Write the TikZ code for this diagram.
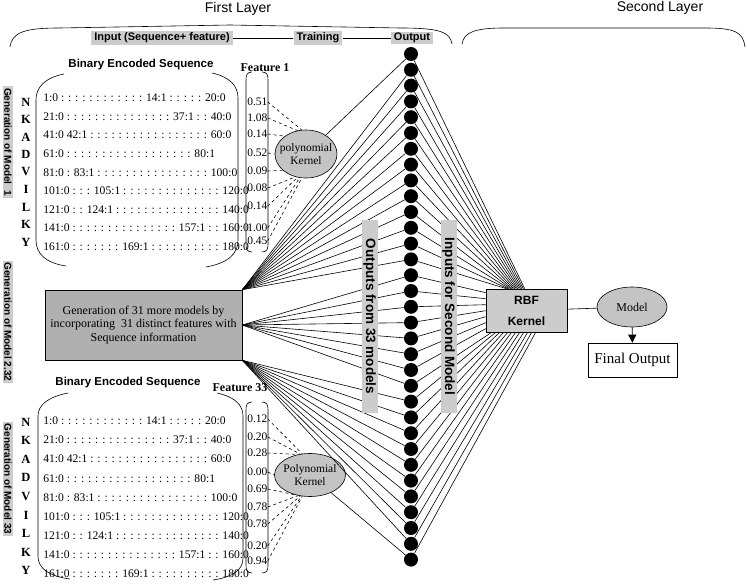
\documentclass[tikz,border=0pt]{standalone}
\usepackage{fontspec}
\setmainfont{Liberation Serif}
\setsansfont{Liberation Sans}
\usepackage{tikz}
\usetikzlibrary{shapes.geometric, arrows.meta, positioning, calc}
\definecolor{tagfill}{RGB}{204, 204, 204}
\definecolor{boxfill}{RGB}{176, 176, 176}
\definecolor{kernfill}{RGB}{196, 196, 196}
\tikzstyle{tag} = [fill=tagfill, inner xsep=3pt, inner ysep=1.5pt, font=\sffamily\bfseries\fontsize{11}{12}\selectfont]
\tikzstyle{sidetag} = [tag, rotate=-90, inner xsep=2pt, inner ysep=1pt, font=\sffamily\bfseries\fontsize{10}{12}\selectfont]
\tikzstyle{midtag} = [tag, rotate=-90, minimum width=193pt, minimum height=16pt, inner sep=0pt, font=\sffamily\bfseries\fontsize{13.5}{15}\selectfont]
\tikzstyle{heading} = [font=\sffamily\bfseries\fontsize{11.5}{13}\selectfont]
\tikzstyle{seqrow} = [anchor=west, inner sep=0pt, font=\fontsize{11.6}{14}\selectfont]
\tikzstyle{residue} = [inner sep=0pt, font=\bfseries\fontsize{12.5}{14}\selectfont]
\tikzstyle{featval} = [anchor=west, inner sep=0pt, font=\fontsize{11.5}{13}\selectfont]
\tikzstyle{kernel} = [ellipse, draw, fill=kernfill, inner xsep=-10pt, inner ysep=-4pt, align=center, font=\fontsize{11.5}{13}\selectfont]
\tikzstyle{unit} = [circle, fill=black, minimum size=14pt, inner sep=0pt]
\tikzstyle{arrow} = [-{Triangle[length=8pt, width=8pt]}]
\newcommand{\seqlist}{%
  {1:0 : : : : : : : : : : : : 14:1 : : : : : 20:0},
  {21:0 : : : : : : : : : : : : : : : 37:1 : : 40:0},
  {41:0 42:1 : : : : : : : : : : : : : : : : : 60:0},
  {61:0 : : : : : : : : : : : : : : : : : : 80:1},
  {81:0 : 83:1 : : : : : : : : : : : : : : : : 100:0},
  {101:0 : : : 105:1 : : : : : : : : : : : : : : 120:0},
  {121:0 : : 124:1 : : : : : : : : : : : : : : : 140:0},
  {141:0 : : : : : : : : : : : : : : : 157:1 : : 160:0},
  {161:0 : : : : : : : 169:1 : : : : : : : : : : 180:0}}

\begin{document}
\begin{tikzpicture}[x=1pt, y=-1pt, line width=0.6pt]
    \useasboundingbox (0,0) rectangle (747,588);

    % Layer headings
    \node[font=\sffamily\fontsize{14}{16}\selectfont] (first) at (238,9) {First Layer};
    \node[font=\sffamily\fontsize{14}{16}\selectfont] (second) at (660,8) {Second Layer};
    \draw (10,47) .. controls (12,32) and (25,28) .. (60,28) -- (230,25) -- (400,28) .. controls (440,28) and (450,32) .. (452,44);
    \draw (462,44) .. controls (464,32) and (475,28) .. (505,28) -- (705,28) .. controls (735,28) and (743,32) .. (745,47);

    % Stage tags
    \node[tag] (input) at (162,38) {Input (Sequence+ feature)};
    \node[tag] (training) at (318,38) {Training};
    \node[tag] (output) at (412,38) {Output};
    \draw (input) -- (training);
    \draw (training) -- (output);

    % Side tags
    \node[sidetag] (gm1) at (8,142) {Generation of Model \ 1};
    \node[sidetag] (gm2) at (8,322) {Generation of Model 2.32};
    \node[sidetag] (gm3) at (8,479) {Generation of Model 33};

    % Model 1: sequence + feature 1
    \node[heading] (bes1) at (141,65) {Binary Encoded Sequence};
    \draw (64,74) .. controls (44,78) and (36,88) .. (36,100) -- (36,240) .. controls (36,254) and (46,263) .. (66,266);
    \draw (212,73) .. controls (230,77) and (238,86) .. (238,98) -- (238,240) .. controls (238,254) and (228,263) .. (206,267);
    \foreach \txt [count=\i] in \seqlist
        \node[seqrow] (sa\i) at (43,{98+18.6*(\i-1)}) {\txt};
    \foreach \aa [count=\i] in {N,K,A,D,V,I,L,K,Y}
        \node[residue] (ra\i) at (26,{102+17.5*(\i-1)}) {\aa};
    \node[font=\bfseries\fontsize{12}{13}\selectfont] (feat1) at (265,68) {Feature 1};
    \draw (252,72) .. controls (247,72) and (246,75) .. (246,80) -- (246,244) .. controls (246,249) and (247,252) .. (252,252);
    \draw (262,72) .. controls (267,72) and (268,75) .. (268,80) -- (268,244) .. controls (268,249) and (267,252) .. (262,252);
    \foreach \v/\y [count=\i] in {0.51/102, 1.08/118, 0.14/134, 0.52/153, 0.09/171, 0.08/188, 0.14/206, 1.00/228, 0.45/241}
        \node[featval] (fa\i) at (247,\y) {\v};
    \node[kernel, minimum width=62pt, minimum height=48pt] (kern1) at (306,154) {polynomial\\Kernel};
    \foreach \i/\a in {1/100, 2/110, 3/140, 4/180, 5/215, 6/245, 7/250, 8/255, 9/260}
        \draw[dashed] (fa\i.east) -- (kern1.\a);

    % Models 2-32
    \node[draw, fill=boxfill, minimum width=197pt, minimum height=70pt, align=center, font=\fontsize{12}{13.8}\selectfont] (gen) at (143.5,325) {Generation of 31 more models by\\incorporating \ 31 distinct features with\\Sequence information};

    % Model 33: sequence + feature 33
    \node[heading] (bes2) at (128,383) {Binary Encoded Sequence};
    \draw (68,393) .. controls (48,397) and (38,405) .. (38,416) -- (38,556) .. controls (38,568) and (48,576) .. (70,579);
    \draw (217,393) .. controls (235,397) and (243,405) .. (243,416) -- (243,558) .. controls (243,570) and (233,577) .. (213,580);
    \foreach \txt [count=\i] in \seqlist
        \node[seqrow] (sb\i) at (43,{421+19.1*(\i-1)}) {\txt};
    \foreach \aa [count=\i] in {N,K,A,D,V,I,L,K,Y}
        \node[residue] (rb\i) at (26,{422+18.6*(\i-1)}) {\aa};
    \node[font=\bfseries\fontsize{12}{13}\selectfont] (feat33) at (240,388) {Feature 33};
    \draw (252,402) .. controls (247,402) and (246,405) .. (246,410) -- (246,565) .. controls (246,570) and (247,573) .. (252,573);
    \draw (262,402) .. controls (267,402) and (268,405) .. (268,410) -- (268,565) .. controls (268,570) and (267,573) .. (262,573);
    \foreach \v/\y [count=\i] in {0.12/419, 0.20/437, 0.28/453, 0.00/472, 0.69/489, 0.78/507, 0.78/524, 0.20/546, 0.94/561}
        \node[featval] (fb\i) at (247,\y) {\v};
    \node[kernel, minimum width=71pt, minimum height=43pt] (kern2) at (310,475) {Polynomial\\Kernel};
    \foreach \i/\a in {1/110, 2/115, 3/120, 4/180, 5/235, 6/240, 7/245, 8/248, 9/250}
        \draw[dashed] (fb\i.east) -- (kern2.\a);

    % Output units
    \foreach \i in {1,...,33}
        \node[unit] (d\i) at (411,{54+15.8*(\i-1)}) {};

    % Second layer
    \node[draw, fill=tagfill, minimum width=81pt, minimum height=43pt, align=center, font=\sffamily\bfseries\fontsize{12}{21}\selectfont] (rbf) at (526.5,310.5) {RBF\\Kernel};
    \node[kernel, minimum width=70pt, minimum height=40pt, font=\fontsize{12}{13}\selectfont] (model) at (632,307) {Model};
    \node[draw, minimum width=89pt, minimum height=34pt, font=\fontsize{15}{17}\selectfont] (final) at (632.5,360) {Final Output};
    \draw (rbf) -- (model);
    \draw[arrow] (model) -- (final);

    % First layer links
    \draw (kern1) -- (d1);
    \draw (kern2) -- (d33);
    \foreach \i in {2,...,14}
        \draw (gen.north east) -- (d\i);
    \foreach \i in {15,...,22}
        \draw (gen.east) -- (d\i);
    \foreach \i in {23,...,32}
        \draw (gen.south east) -- (d\i);

    % Second layer links
    \foreach \i in {1,...,14}
        \draw (d\i) -- ($(rbf.north west)+({39-1.4*(\i-1)},0)$);
    \foreach \i in {15,...,21}
        \draw (d\i) -- ($(rbf.north west)+(0,{4+6*(\i-15)})$);
    \foreach \i in {22,...,33}
        \draw (d\i) -- ($(rbf.south west)+({6+4*(\i-22)},0)$);

    % Column tags
    \node[midtag] (outs) at (369.5,316.5) {Outputs from 33 models};
    \node[midtag] (ins) at (448.5,316.5) {Inputs for Second Model};
\end{tikzpicture}
\end{document}
